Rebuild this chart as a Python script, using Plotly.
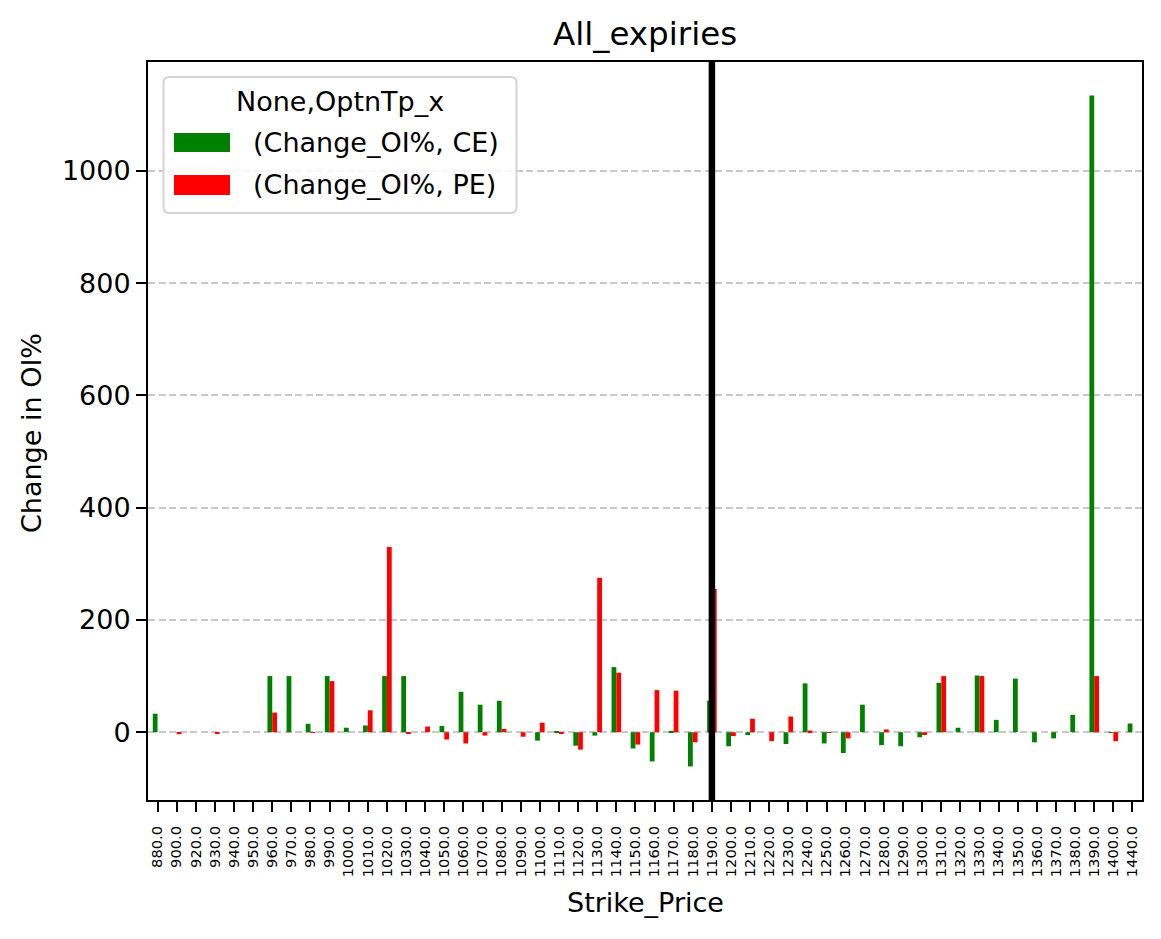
import plotly.graph_objects as go

strikes = ["880.0", "900.0", "920.0", "930.0", "940.0", "950.0", "960.0", "970.0", "980.0", "990.0",
           "1000.0", "1010.0", "1020.0", "1030.0", "1040.0", "1050.0", "1060.0", "1070.0", "1080.0", "1090.0",
           "1100.0", "1110.0", "1120.0", "1130.0", "1140.0", "1150.0", "1160.0", "1170.0", "1180.0", "1190.0",
           "1200.0", "1210.0", "1220.0", "1230.0", "1240.0", "1250.0", "1260.0", "1270.0", "1280.0", "1290.0",
           "1300.0", "1310.0", "1320.0", "1330.0", "1340.0", "1350.0", "1360.0", "1370.0", "1380.0", "1390.0",
           "1400.0", "1440.0"]

ce_change = [33, 0, 0, 0, 0, 0, 100, 100, 15, 100,
             8, 12, 100, 100, 0, 11, 72, 49, 56, 0,
             -15, 1, -24, -6, 116, -29, -52, 2.5, -61, 56,
             -25, -5, 0, -21, 87, -20, -37, 49, -23, -25,
             -9, 88, 8, 101, 22, 95.5, -18, -11, 31, 1134,
             -1, 15.5]

pe_change = [0, -3.5, 0, -1.5, 0, 0, 35, 0, -1, 91,
             0, 39, 330, -3, 10, -13, -20, -6, 6, -8,
             17, -3, -31, 275, 106, -22, 75, 74, -18, 255,
             -7, 24, -16, 28, 3, -1, -11, 0, 5, 0,
             -5, 100, 0, 100, 0, 0, 0, 0, 0, 100,
             -16, 0]

spot_strike = "1190.0"
series_names = ["(Change_OI%, CE)", "(Change_OI%, PE)"]
series_colors = ["#008000", "#ff0000"]
legend_title = "None,OptnTp_x"

FONT = "DejaVu Sans"

fig = go.Figure()
fig.add_trace(go.Bar(x=strikes, y=ce_change, name=series_names[0], marker_color=series_colors[0],
                     marker_line_width=0, showlegend=False))
fig.add_trace(go.Bar(x=strikes, y=pe_change, name=series_names[1], marker_color=series_colors[1],
                     marker_line_width=0, showlegend=False))

allv = ce_change + pe_change
lo, hi = min(allv), max(allv)
pad = 0.05 * (hi - lo)

spot_idx = strikes.index(spot_strike)
fig.add_shape(type="line", xref="x", yref="paper", x0=spot_idx, x1=spot_idx, y0=0, y1=1,
              line=dict(color="black", width=6.5), layer="above")

# custom legend
def px_x(p):
    return (p - 148) / 994.0

def px_y(p):
    return (800 - p) / 738.0

bx0, bx1, by0, by1 = px_x(163.5), px_x(516.5), px_y(213), px_y(77)
rx, ry = 6 / 994.0, 6 / 738.0
path = (f"M {bx0+rx},{by1} L {bx1-rx},{by1} Q {bx1},{by1} {bx1},{by1-ry} "
        f"L {bx1},{by0+ry} Q {bx1},{by0} {bx1-rx},{by0} L {bx0+rx},{by0} "
        f"Q {bx0},{by0} {bx0},{by0+ry} L {bx0},{by1-ry} Q {bx0},{by1} {bx0+rx},{by1} Z")
fig.add_shape(type="path", xref="paper", yref="paper", path=path,
              line=dict(color="#d5d5d5", width=2), fillcolor="rgba(255,255,255,0.85)", layer="above")

sw_y = [(133, 152), (175, 195)]
txt_y = [142.5, 185]
for i in range(2):
    fig.add_shape(type="rect", xref="paper", yref="paper",
                  x0=px_x(174), x1=px_x(230), y0=px_y(sw_y[i][1]), y1=px_y(sw_y[i][0]),
                  fillcolor=series_colors[i], line_width=0, layer="above")
    fig.add_annotation(xref="paper", yref="paper", x=px_x(251), y=px_y(txt_y[i]),
                       text=series_names[i], showarrow=False, xanchor="left", yanchor="middle",
                       font=dict(family=FONT, size=27, color="black"))
fig.add_annotation(xref="paper", yref="paper", x=px_x(340), y=px_y(101), text=legend_title,
                   showarrow=False, xanchor="center", yanchor="middle",
                   font=dict(family=FONT, size=27, color="black"))

# axis titles
fig.add_annotation(xref="paper", yref="paper", x=0.5, y=px_y(902), text="Strike_Price",
                   showarrow=False, xanchor="center", yanchor="middle",
                   font=dict(family=FONT, size=27, color="black"))
fig.add_annotation(xref="paper", yref="paper", x=px_x(31), y=px_y(433), text="Change in OI%",
                   showarrow=False, xanchor="center", yanchor="middle", textangle=-90,
                   font=dict(family=FONT, size=27, color="black"))

fig.update_layout(
    width=1161, height=939,
    margin=dict(l=148, r=19, t=62, b=139, autoexpand=False),
    paper_bgcolor="white", plot_bgcolor="white",
    barmode="group", bargap=0.5, bargroupgap=0,
    title=dict(text="All_expiries", x=(645 / 1161), xanchor="center", y=1 - 45 / 939, yanchor="bottom",
               yref="container", font=dict(family=FONT, size=32.5, color="black")),
    font=dict(family=FONT, color="black"),
)

fig.update_xaxes(type="category", categoryorder="array", categoryarray=strikes,
                 range=[-0.5, len(strikes) - 0.5],
                 showline=True, linecolor="black", linewidth=2, mirror=True,
                 ticks="outside", ticklen=10, tickwidth=2, tickcolor="black",
                 tickangle=-90, tickfont=dict(family=FONT, size=14.7, color="black"),
                 ticklabelstandoff=8,
                 showgrid=False, zeroline=False, automargin=False)
fig.update_yaxes(range=[lo - pad, hi + pad], tickmode="linear", tick0=0, dtick=200,
                 showline=True, linecolor="black", linewidth=2, mirror=True,
                 ticks="outside", ticklen=10, tickwidth=2, tickcolor="black",
                 tickfont=dict(family=FONT, size=27, color="black"),
                 showgrid=True, gridcolor="#c8c8c8", gridwidth=1.8, griddash="7px,3.5px",
                 zeroline=False, automargin=False)

fig.write_html("out.html")
